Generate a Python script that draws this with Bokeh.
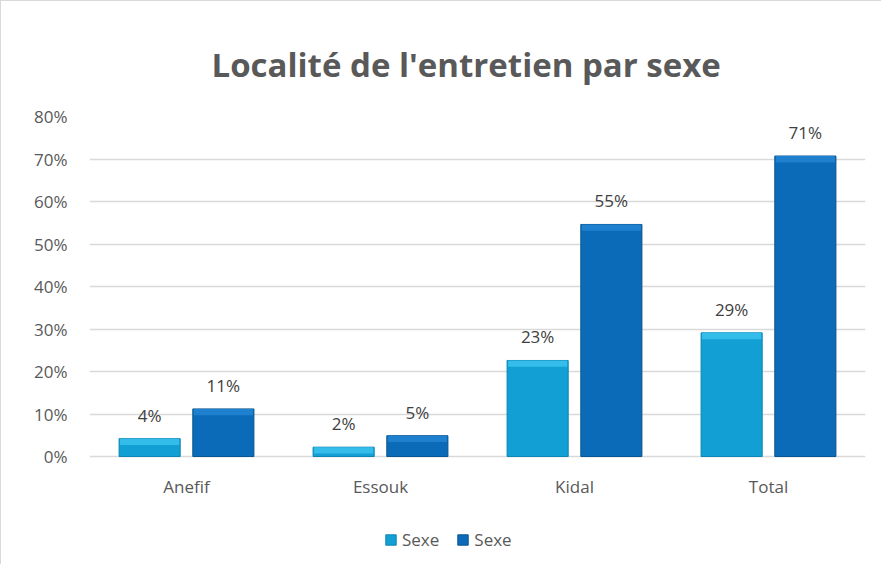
from bokeh.plotting import figure
from bokeh.models import (ColumnDataSource, FactorRange, Range1d, FixedTicker,
                          NumeralTickFormatter, Legend, LegendItem, LabelSet)
from bokeh.core.properties import value
from bokeh.transform import dodge
from bokeh.embed import file_html
from bokeh.resources import INLINE

title = "Localité de l'entretien par sexe"
categories = ["Anefif", "Essouk", "Kidal", "Total"]
series_names = ["Sexe", "Sexe"]
sexe_a = [0.042, 0.022, 0.226, 0.291]
sexe_b = [0.112, 0.049, 0.546, 0.707]
y_ticks = [0.0, 0.1, 0.2, 0.3, 0.4, 0.5, 0.6, 0.7, 0.8]

FONT = "Open Sans"
TXT = "#595959"
BEVEL = 0.015

src = ColumnDataSource(dict(
    cat=categories,
    a=sexe_a,
    b=sexe_b,
    a_bev=[max(v - BEVEL, 0) for v in sexe_a],
    b_bev=[max(v - BEVEL, 0) for v in sexe_b],
    a_lbl=["{:.0f}%".format(v * 100) for v in sexe_a],
    b_lbl=["{:.0f}%".format(v * 100) for v in sexe_b],
))

# frame extends below 0 to leave room for the category labels and legend
p = figure(x_range=FactorRange(*categories), y_range=Range1d(-0.254, 0.8),
           frame_width=776, frame_height=448,
           output_backend="svg", toolbar_location=None,
           min_border_left=88, min_border_right=16, min_border_top=115,
           min_border_bottom=0)
p.styles = {"border-top": "1px solid #d9d9d9", "border-left": "1px solid #d9d9d9"}

p.title.text = title
p.title.align = "left"
p.title.offset = 122
p.title.text_font = FONT
p.title.text_font_size = "33px"
p.title.text_font_style = "bold"
p.title.text_color = TXT
p.title.standoff = 60

p.outline_line_color = None
p.background_fill_color = "white"
p.border_fill_color = "white"

p.xgrid.grid_line_color = None
p.ygrid.grid_line_color = "#d9d9d9"
p.ygrid.grid_line_width = 1.3

p.yaxis.ticker = FixedTicker(ticks=y_ticks)
p.yaxis.formatter = NumeralTickFormatter(format="0%")
p.xaxis.fixed_location = 0
for ax in (p.xaxis, p.yaxis):
    ax.axis_line_color = None
    ax.major_tick_line_color = None
    ax.minor_tick_line_color = None
    ax.major_label_text_font = FONT
    ax.major_label_text_font_size = "17px"
    ax.major_label_text_color = TXT
p.yaxis.major_label_standoff = 16
p.xaxis.major_label_standoff = 12

ra = p.vbar(x=dodge("cat", -0.19, range=p.x_range), top="a", width=0.315,
            source=src, fill_color="#129fd4", line_color="#0b85b2", line_width=1)
rb = p.vbar(x=dodge("cat", 0.19, range=p.x_range), top="b", width=0.315,
            source=src, fill_color="#0b6bb8", line_color="#07548f", line_width=1)
# bevel highlight at the top of each bar
p.vbar(x=dodge("cat", -0.19, range=p.x_range), top="a", bottom="a_bev", width=0.305,
       source=src, fill_color="#34bcea", line_color=None)
p.vbar(x=dodge("cat", 0.19, range=p.x_range), top="b", bottom="b_bev", width=0.305,
       source=src, fill_color="#1f80d0", line_color=None)

for col, lbl, off in (("a", "a_lbl", -0.19), ("b", "b_lbl", 0.19)):
    ls = LabelSet(x=dodge("cat", off, range=p.x_range), y=col, text=lbl, source=src,
                  text_align="center", text_baseline="alphabetic", y_offset=17,
                  text_font=value(FONT), text_font_size=value("17px"),
                  text_color="#404040")
    p.add_layout(ls)

legend = Legend(items=[LegendItem(label=series_names[0], renderers=[ra]),
                       LegendItem(label=series_names[1], renderers=[rb])],
                orientation="horizontal", location=(295, 13),
                label_text_font=FONT, label_text_font_size="17px",
                label_text_color=TXT, glyph_width=13, glyph_height=13,
                label_standoff=5, spacing=17, padding=0, margin=0,
                border_line_color=None, background_fill_alpha=0)
p.add_layout(legend, "center")

open("out.html", "w").write(file_html(p, INLINE))
